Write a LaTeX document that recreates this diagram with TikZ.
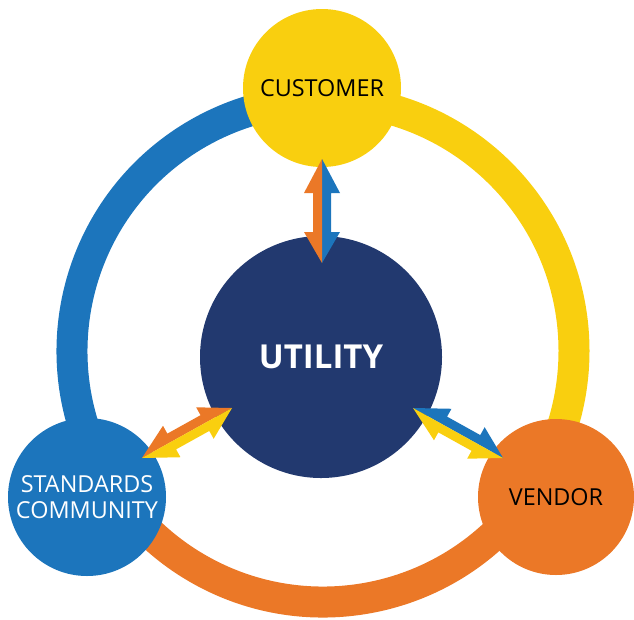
\documentclass[tikz,border=0pt]{standalone}
\usepackage{fontspec}
\setmainfont{Open Sans}
\usetikzlibrary{calc}
\definecolor{cblue}{HTML}{1C75BC}
\definecolor{cyellow}{HTML}{F9CF0F}
\definecolor{corange}{HTML}{EB7827}
\definecolor{cnavy}{HTML}{22396F}
\tikzset{
  ring/.style={line width=31pt},
  partner/.style={circle, inner sep=0pt, minimum size=158pt, align=center,
    font=\fontsize{23.4}{26}\selectfont},
  hub/.style={circle, fill=cnavy, inner sep=0pt, minimum size=242pt,
    text=white, font=\bfseries\fontsize{33}{36}\selectfont}
}
\newcommand\halfarrow[5]{%
  \coordinate (ha1) at ($(#1)!34pt!(#2)$);
  \coordinate (ha2) at ($(#2)!31pt!(#1)$);
  \fill[#4] (#1) -- ($(ha1)!18pt!#3:(#2)$) -- ($(ha1)!9pt!#3:(#2)$)
    -- ($(ha2)!9pt!#5:(#1)$) -- ($(ha2)!18pt!#5:(#1)$) -- (#2) -- cycle;
}
\begin{document}
\begin{tikzpicture}[x=1pt,y=-1pt]
\useasboundingbox (0,0) rectangle (634,619);
\coordinate (rc) at (323,351);
% ring arcs
\draw[ring, cblue] ($(rc)+(148.3:251)$) arc[start angle=148.3, end angle=270, radius=251];
\draw[ring, cyellow] ($(rc)+(-90:251)$) arc[start angle=-90, end angle=32, radius=251];
\draw[ring, corange] ($(rc)+(32:251)$) arc[start angle=32, end angle=148.3, radius=251];
% circles
\node[partner, fill=cyellow, text=black] (cust) at (322,88) {CUSTOMER};
\node[partner, fill=cblue, text=white] (std) at (87,497) {STANDARDS\\COMMUNITY};
\node[partner, fill=corange, text=black, minimum size=156pt] (vend) at (556,497) {VENDOR};
\node[hub] (util) at (321,357) {UTILITY};
% arrows
\coordinate (t1) at (322,159);
\coordinate (t2) at (322,263);
\halfarrow{t1}{t2}{90}{cblue}{-90}
\halfarrow{t1}{t2}{-90}{corange}{90}
\coordinate (l1) at (142,458);
\coordinate (l2) at (232,408);
\halfarrow{l1}{l2}{90}{corange}{-90}
\halfarrow{l1}{l2}{-90}{cyellow}{90}
\coordinate (r1) at (413,408);
\coordinate (r2) at (503,458);
\halfarrow{r1}{r2}{90}{cblue}{-90}
\halfarrow{r1}{r2}{-90}{cyellow}{90}
\end{tikzpicture}
\end{document}
